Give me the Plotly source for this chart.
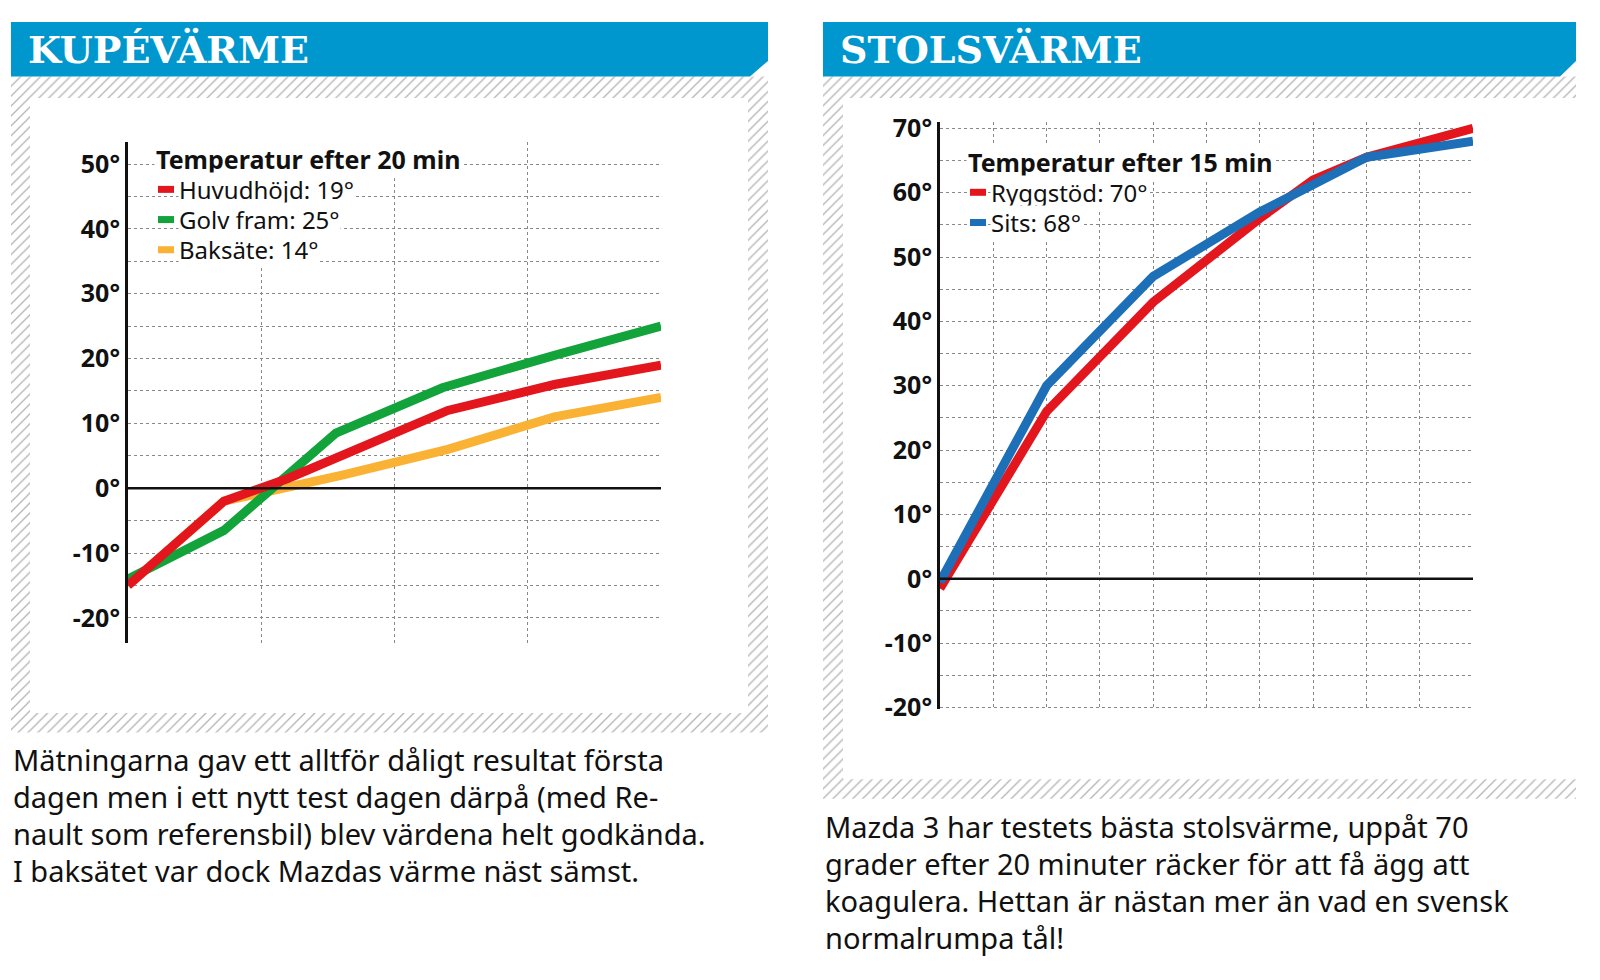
import plotly.graph_objects as go

# ---- data --------------------------------------------------------------------
kupe_x_gron = [0, 3.6, 7.8, 11.8, 16, 20]
kupe_gron = [-14, -6.5, 8.5, 15.5, 20.5, 25]
kupe_x_rod = [0, 3.6, 6, 8, 12, 16, 20]
kupe_rod = [-15, -2, 1.5, 5, 12, 16, 19]
kupe_x_orange = [0, 3.6, 8, 12, 16, 20]
kupe_orange = [-15, -2, 2, 6, 11, 14]

stol_x_rod = [0, 3, 6, 9, 10.5, 12, 15]
stol_rod = [-1.5, 26, 43, 56, 62, 65.5, 70]
stol_x_bla = [0, 3, 6, 9, 12, 15]
stol_bla = [-0.5, 30, 47, 57, 65.5, 68]

kupe_yticks = [-20, -10, 0, 10, 20, 30, 40, 50]
stol_yticks = [-20, -10, 0, 10, 20, 30, 40, 50, 60, 70]
kupe_xlabels = ["0", "5", "10", "15", "20"]
stol_xlabels = ["0", "3", "6", "9", "12", "15"]

RED, GREEN, ORANGE, BLUE = "#E3161E", "#12A33B", "#F9B233", "#1D6FB8"
HEAD = "#0097CF"
W, H = 1600, 980
FONT = "Noto Sans"


def px(x0, x1):
    return [x0 / W, x1 / W]


def py(top, bottom):
    return [1 - bottom / H, 1 - top / H]


fig = go.Figure()

# decoration layer (pixel coordinates)
def poly(xs, ys, **kw):
    fig.add_trace(go.Scatter(x=xs + [xs[0]], y=ys + [ys[0]], mode="lines", fill="toself",
                             line=dict(width=0), hoverinfo="skip", showlegend=False,
                             xaxis="x", yaxis="y", **kw))

hatch = dict(shape="/", fgcolor="#666", bgcolor="white", size=7, solidity=0.18)
poly([3, 760, 760, 3], [58, 58, 732, 732], fillcolor="white", fillpattern=hatch)
poly([815, 1568, 1568, 815], [58, 58, 800, 800], fillcolor="white", fillpattern=hatch)
poly([22, 740, 740, 22], [80, 80, 712, 712], fillcolor="white")
poly([835, 1568, 1568, 835], [80, 80, 780, 780], fillcolor="white")
poly([3, 760, 760, 742, 3], [2, 2, 42, 58, 58], fillcolor=HEAD)
poly([815, 1568, 1568, 1552, 815], [2, 2, 42, 58, 58], fillcolor=HEAD)

ann = []
ann.append(dict(x=18, y=30, text="<b>KUPÉVÄRME</b>", xref="x", yref="y", showarrow=False,
                xanchor="left", font=dict(family="DejaVu Serif", size=38, color="white")))
ann.append(dict(x=830, y=30, text="<b>STOLSVÄRME</b>", xref="x", yref="y", showarrow=False,
                xanchor="left", font=dict(family="DejaVu Serif", size=38, color="white")))

cap_left = ["Mätningarna gav ett alltför dåligt resultat första",
            "dagen men i ett nytt test dagen därpå (med Re-",
            "nault som referensbil) blev värdena helt godkända.",
            "I baksätet var dock Mazdas värme näst sämst."]
cap_right = ["Mazda 3 har testets bästa stolsvärme, uppåt 70",
             "grader efter 20 minuter räcker för att få ägg att",
             "koagulera. Hettan är nästan mer än vad en svensk",
             "normalrumpa tål!"]
for i, t in enumerate(cap_left):
    ann.append(dict(x=3, y=760 + 38 * i, text=t, xref="x", yref="y", showarrow=False,
                    xanchor="left", font=dict(family=FONT, size=29, color="#111")))
for i, t in enumerate(cap_right):
    ann.append(dict(x=815, y=828 + 38 * i, text=t, xref="x", yref="y", showarrow=False,
                    xanchor="left", font=dict(family=FONT, size=29, color="#111")))

# ---- charts ---------------------------------------------------------------
def line(x, y, c, ax):
    fig.add_trace(go.Scatter(x=x, y=y, mode="lines", line=dict(color=c, width=9),
                             cliponaxis=False, hoverinfo="skip", showlegend=False,
                             xaxis="x" + ax, yaxis="y" + ax))

line(kupe_x_orange, kupe_orange, ORANGE, "2")
line(kupe_x_gron, kupe_gron, GREEN, "2")
line(kupe_x_rod, kupe_rod, RED, "2")
line(stol_x_rod, stol_rod, RED, "3")
line(stol_x_bla, stol_bla, BLUE, "3")

grid = dict(showgrid=True, gridcolor="#888", griddash="dot", gridwidth=1)
tickfont = dict(family=FONT, size=25, color="#111")

def yax(dom, rng, ticks):
    return dict(domain=dom, range=rng, tickvals=ticks, ticktext=[f"<b>{v}°</b>" for v in ticks],
                tickfont=tickfont, showline=True, linecolor="#111", linewidth=3,
                zeroline=False, ticks="", ticklen=0, fixedrange=True,
                minor=dict(dtick=5, showgrid=True, gridcolor="#888", griddash="dot"), **grid)

def xax(dom, rng, dt, anchor):
    return dict(domain=dom, range=rng, dtick=dt, showticklabels=False, zeroline=False,
                showline=False, anchor=anchor, fixedrange=True, **grid)

# left chart: x 0->px120, 20->px653 ; y 0->481, 10 units = 66.6px
l_top, l_bot = 125, 640
k = 66.6 / 10
fig.update_layout(
    xaxis=dict(domain=[0, 1], range=[0, W], visible=False, fixedrange=True),
    yaxis=dict(domain=[0, 1], range=[H, 0], visible=False, fixedrange=True),
    xaxis2=xax(px(120, 653), [0, 20], 5, "y2"),
    yaxis2=yax(py(l_top, l_bot), [(481 - l_bot) / k, (481 - l_top) / k], kupe_yticks) | dict(anchor="x2"),
)
r_top, r_bot = 105, 708
k2 = 66.1 / 10
fig.update_layout(
    xaxis3=xax(px(932, 1465), [0, 15], 1.5, "y3"),
    yaxis3=yax(py(r_top, r_bot), [(574 - r_bot) / k2, (574 - r_top) / k2], stol_yticks) | dict(anchor="x3"),
)

shapes = [
    dict(type="line", xref="x2", yref="y2", x0=0, x1=20, y0=0, y1=0, line=dict(color="#111", width=2.5)),
    dict(type="line", xref="x3", yref="y3", x0=0, x1=15, y0=0, y1=0, line=dict(color="#111", width=2.5)),
]

for lab, v in zip(kupe_xlabels, [0, 5, 10, 15, 20]):
    ann.append(dict(x=v, y=-26.5, xref="x2", yref="y2", text=f"<b>{lab}</b>", showarrow=False,
                    font=tickfont))
ann.append(dict(x=20.5, y=-26.5, xref="x2", yref="y2", text="<b>min</b>", showarrow=False,
                xanchor="left", font=tickfont))
for lab, v in zip(stol_xlabels, [0, 3, 6, 9, 12, 15]):
    ann.append(dict(x=v, y=-24, xref="x3", yref="y3", text=f"<b>{lab}</b>", showarrow=False,
                    font=tickfont))
ann.append(dict(x=15.4, y=-24, xref="x3", yref="y3", text="<b>min</b>", showarrow=False,
                xanchor="left", font=tickfont))

# legends (pixel coords)
def legend(x, y, title, items):
    ann.append(dict(x=x, y=y, xref="x", yref="y", text=f"<b>{title}</b>", showarrow=False,
                    xanchor="left", bgcolor="white", font=dict(family=FONT, size=25, color="#111")))
    for i, (t, c) in enumerate(items):
        yy = y + 31 * (i + 1)
        shapes.append(dict(type="line", xref="x", yref="y", x0=x + 4, x1=x + 20, y0=yy, y1=yy,
                           line=dict(color=c, width=7)))
        ann.append(dict(x=x + 24, y=yy, xref="x", yref="y", text=t, showarrow=False,
                        xanchor="left", bgcolor="white", borderpad=0,
                        font=dict(family=FONT, size=24, color="#111")))

legend(146, 143, "Temperatur efter 20 min",
       [("Huvudhöjd: 19°", RED), ("Golv fram: 25°", GREEN), ("Baksäte: 14°", ORANGE)])
legend(958, 146, "Temperatur efter 15 min", [("Ryggstöd: 70°", RED), ("Sits: 68°", BLUE)])

fig.update_layout(width=W, height=H, margin=dict(l=0, r=0, t=0, b=0),
                  paper_bgcolor="white", plot_bgcolor="rgba(0,0,0,0)",
                  shapes=shapes, annotations=ann, showlegend=False)

fig.write_html("out.html", config={"displayModeBar": False})
